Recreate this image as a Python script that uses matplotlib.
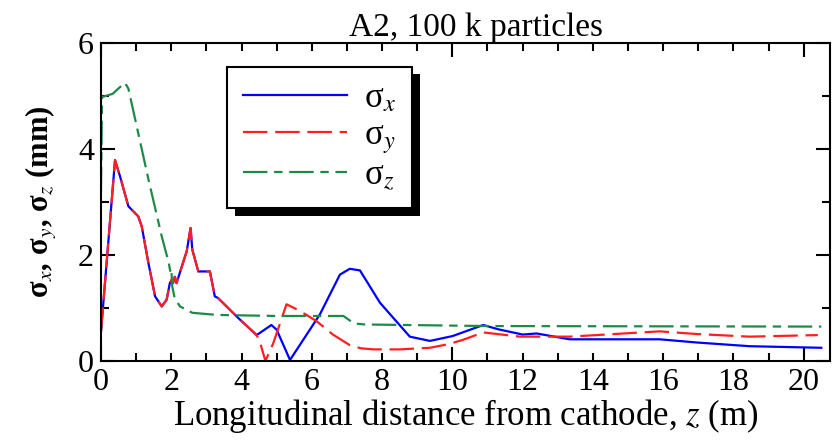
import matplotlib
matplotlib.use("Agg")
import matplotlib.pyplot as plt
from matplotlib.ticker import MultipleLocator, FuncFormatter
import matplotlib.patheffects as pe

plt.rcParams["font.family"] = ["Liberation Serif", "DejaVu Serif"]
plt.rcParams["mathtext.fontset"] = "stix"

# sigma_x (blue, solid)
z_x = [0, 0.4, 0.54, 0.78, 1.06, 1.16, 1.35, 1.54, 1.73, 1.87, 1.96, 2.01, 2.05,
       2.1, 2.15, 2.44, 2.55, 2.6, 2.77, 3.1, 3.24, 3.33, 3.91, 4.43, 4.52, 4.85,
       5.0, 5.38, 6.23, 6.8, 7.08, 7.37, 7.94, 8.79, 9.36, 10.0, 10.88, 11.3,
       12.0, 12.4, 13.34, 15.9, 16.95, 18.46, 20.5]
s_x = [0.55, 3.79, 3.49, 2.92, 2.73, 2.54, 1.85, 1.22, 1.03, 1.16, 1.47, 1.53, 1.47,
       1.59, 1.47, 2.07, 2.51, 2.1, 1.69, 1.69, 1.22, 1.19, 0.81, 0.49, 0.53, 0.68,
       0.59, 0.02, 0.88, 1.63, 1.74, 1.71, 1.1, 0.46, 0.38, 0.47, 0.68, 0.6,
       0.5, 0.52, 0.41, 0.41, 0.35, 0.28, 0.25]

# sigma_y (red, dashed)
z_y = [0, 0.4, 0.54, 0.78, 1.06, 1.16, 1.35, 1.54, 1.73, 1.87, 1.96, 2.01, 2.05,
       2.1, 2.15, 2.44, 2.55, 2.6, 2.77, 3.1, 3.24, 3.33, 3.91, 4.43, 4.52, 4.68,
       4.9, 5.28, 5.5, 5.85, 6.14, 6.6, 7.08, 7.4, 7.75, 8.5, 9.36, 9.9, 10.3,
       10.88, 11.92, 13.34, 15.9, 16.95, 18.46, 20.4]
s_y = [0.55, 3.79, 3.49, 2.92, 2.73, 2.54, 1.85, 1.22, 1.03, 1.16, 1.47, 1.53, 1.47,
       1.59, 1.47, 2.07, 2.51, 2.1, 1.69, 1.69, 1.22, 1.19, 0.81, 0.49, 0.37, 0.0,
       0.33, 1.07, 1.0, 0.87, 0.75, 0.5, 0.3, 0.24, 0.22, 0.22, 0.25, 0.32, 0.4,
       0.54, 0.46, 0.46, 0.56, 0.51, 0.46, 0.49]

# sigma_z (green, dash-dot)
z_z = [0, 0.03, 0.33, 0.68, 0.78, 1.35, 1.73, 1.93, 1.97, 2.0, 2.03, 2.1, 2.25,
       2.6, 3.3, 5.0, 6.9, 7.2, 7.5, 11.0, 20.5]
s_z = [3.2, 4.98, 5.04, 5.25, 5.14, 3.43, 2.35, 1.85, 1.7, 1.75, 1.4, 1.18, 1.03,
       0.91, 0.87, 0.85, 0.85, 0.71, 0.69, 0.66, 0.65]

fig = plt.figure(figsize=(8.4, 4.43), dpi=100)
ax = fig.add_axes([0.1202, 0.185, 0.868, 0.718])

lw = 1.6
ax.plot(z_x, s_x, color="#0000ff", lw=lw, label="σ$_x$")
ax.plot(z_y, s_y, color="#ff1f1f", lw=lw, dashes=(11, 3.5), label="σ$_y$")
ax.plot(z_z, s_z, color="#1e8a48", lw=lw, dashes=(11, 3, 3.8, 3), label="σ$_z$")

ax.set_xlim(0, 20.75)
ax.set_ylim(0, 6)

ax.xaxis.set_major_locator(MultipleLocator(10))
ax.xaxis.set_minor_locator(MultipleLocator(1))
ax.xaxis.set_minor_formatter(
    FuncFormatter(lambda v, p: f"{v:.0f}" if round(v) % 2 == 0 else ""))
ax.yaxis.set_major_locator(MultipleLocator(2))
ax.yaxis.set_minor_locator(MultipleLocator(1))

for side in ax.spines.values():
    side.set_linewidth(1.5)
ax.tick_params(which="both", direction="in", top=True, right=True,
               labelsize=23, width=1.5, pad=5)
ax.tick_params(which="major", length=10)
ax.tick_params(which="minor", length=6)

ax.set_xlabel("Longitudinal distance from cathode, $z$ (m)", fontsize=25, labelpad=0)
ax.set_ylabel("σ$_x$, σ$_y$, σ$_z$ (mm)", fontsize=22, fontweight="bold", labelpad=14)
ax.set_title("A2, 100 k particles", fontsize=24, x=0.514, pad=3)

leg = ax.legend(loc="upper left", bbox_to_anchor=(0.173, 0.925), borderaxespad=0,
                fontsize=25, handlelength=3.0, handletextpad=0.5,
                labelspacing=0.1, borderpad=0.45, fancybox=False,
                edgecolor="black", framealpha=1)
leg.get_frame().set_linewidth(1.5)
leg.get_frame().set_path_effects(
    [pe.withSimplePatchShadow(offset=(5.5, -5.5), shadow_rgbFace="black", alpha=1)])

fig.savefig("out.png", dpi=100, facecolor="white")
